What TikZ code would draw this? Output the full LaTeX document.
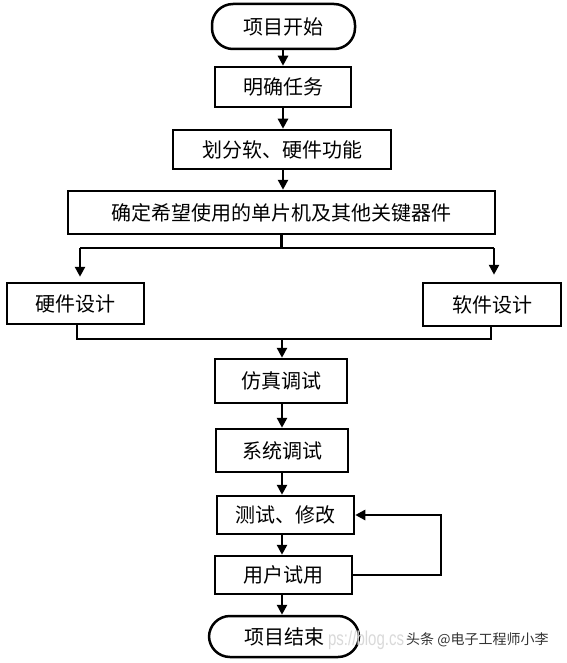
\documentclass[tikz,border=0pt]{standalone}
\usepackage{fontspec}
\newfontfamily\cjk{Noto Sans CJK SC}
\newfontfamily\latinsans{Liberation Sans}
\usetikzlibrary{arrows.meta}
\tikzset{
	stepbox/.style={draw, line width=2.5pt, fill=white, inner sep=0pt, font=\cjk\fontsize{20}{24}\selectfont},
	termbox/.style={stepbox, rounded corners=21pt},
	wire/.style={line width=2.5pt},
	flow/.style={wire, -{Triangle[length=10pt,width=10pt]}},
}

\begin{document}
\begin{tikzpicture}[x=1pt,y=-1pt]
			%%%%% START %%%%%
			\useasboundingbox (0,0) rectangle (566,663);
			
			\node[termbox, minimum width=143pt, minimum height=45pt] (start) at (283.5, 26.5) {项目开始};
			\node[stepbox, minimum width=136pt, minimum height=40pt] (task) at (283, 87) {明确任务};
			\node[stepbox, minimum width=218pt, minimum height=39pt] (split) at (282, 149.5) {划分软、硬件功能};
			\node[stepbox, minimum width=427pt, minimum height=43pt] (chip) at (281.5, 212.5) {确定希望使用的单片机及其他关键器件};
			
			\node[stepbox, minimum width=137pt, minimum height=41pt] (hw) at (75.5, 303.5) {硬件设计};
			\node[stepbox, minimum width=138pt, minimum height=43pt] (sw) at (492, 304.5) {软件设计};
			
			\node[stepbox, minimum width=132pt, minimum height=44pt] (sim) at (281, 381) {仿真调试};
			\node[stepbox, minimum width=132pt, minimum height=43pt] (sys) at (282, 450.5) {系统调试};
			\node[stepbox, minimum width=137pt, minimum height=38pt] (test) at (285.5, 515) {测试、修改};
			\node[stepbox, minimum width=137pt, minimum height=38pt] (user) at (283.5, 575) {用户试用};
			\node[termbox, minimum width=150pt, minimum height=41pt] (end) at (284, 636.5) {项目结束};
			
			% top chain
			\draw[flow] (task.north |- start.south) -- (task.north);
			\draw[flow] (task.south) -- (task.south |- split.north);
			\draw[flow] (task.south |- split.south) -- (task.south |- chip.north);
			
			% fork to hardware / software
			\coordinate (forkL) at (80, 248);
			\coordinate (forkR) at (494, 248);
			\draw[wire] (chip.south) -- (chip.south |- forkL);
			\draw[wire] (forkL) -- (forkR);
			\draw[flow, shorten >=5pt] (forkL) -- (forkL |- hw.north);
			\draw[flow, shorten >=7pt] (forkR) -- (forkR |- sw.north);
			
			% join again
			\coordinate (joinL) at (77, 339);
			\coordinate (joinR) at (491, 339);
			\coordinate (joinM) at (282, 339);
			\draw[wire] (joinL |- hw.south) -- (joinL) -- (joinR) -- (joinR |- sw.south);
			\draw[flow] (joinM) -- (joinM |- sim.north);
			
			% bottom chain
			\draw[flow] (sys.north |- sim.south) -- (sys.north);
			\draw[flow] (sys.south) -- (sys.south |- test.north);
			\draw[flow] (sys.south |- test.south) -- (sys.south |- user.north);
			\draw[flow] (sys.south |- user.south) -- (sys.south |- end.north);
			
			% back loop
			\coordinate (back) at (441, 0);
			\draw[flow] (user.east) -- (user.east -| back) -- (back |- test.east) -- (test.east);
			
			% watermarks
			\node[anchor=west, inner sep=0pt, text=black!15, xscale=0.75, transform shape, font=\latinsans\fontsize{20}{24}\selectfont] (csdn) at (328, 640) {ps://blog.cs};
			\node[anchor=west, inner sep=0pt, text=black!80, font=\cjk\fontsize{14}{16}\selectfont] (mark) at (406, 640) {头条 @电子工程师小李};
			
			%%%%% END %%%%%
\end{tikzpicture}
\end{document}
